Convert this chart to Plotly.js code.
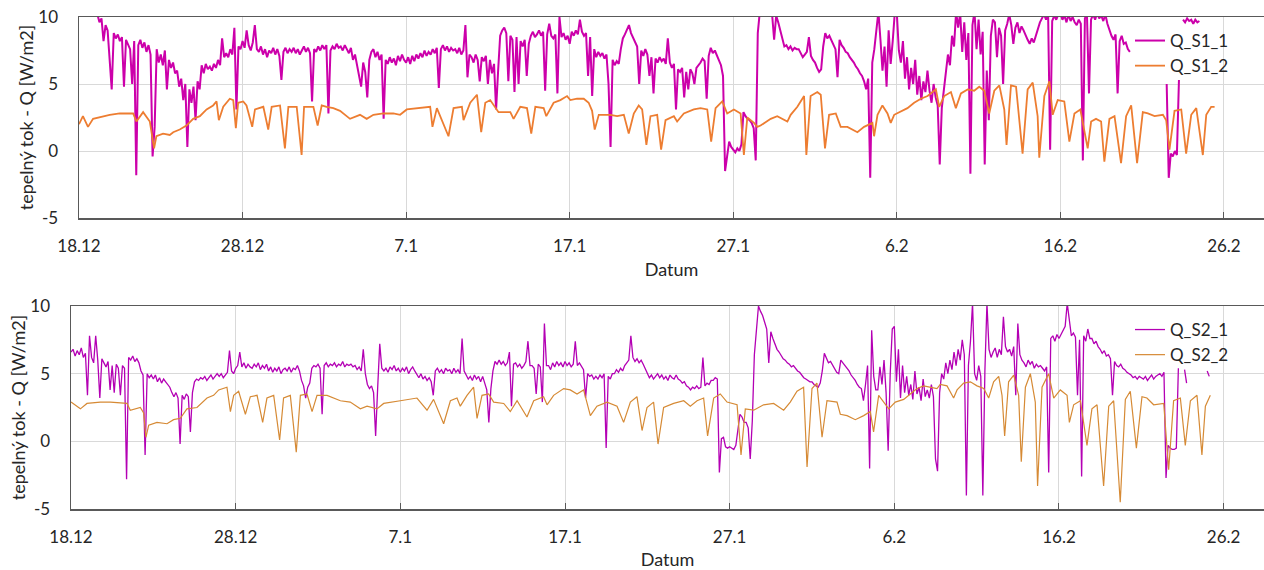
<!DOCTYPE html>
<html>
<head>
<meta charset="utf-8">
<script src="https://cdn.plot.ly/plotly-3.0.1.min.js"></script>
<style>
  html, body { margin: 0; padding: 0; background: #ffffff; }
  #chart { width: 1264px; height: 570px; }
</style>
</head>
<body>
<div id="chart"></div>
<script>
// ---------------- DATA ----------------
// day offsets are counted from 18.12 (00:00)
const startDate = [2012, 11, 18];
const tickDays = [0, 10, 20, 30, 40, 50, 60, 70];
const tickLabels = ['18.12', '28.12', '7.1', '17.1', '27.1', '6.2', '16.2', '26.2'];

// Q_S1_1 : samples every 0.125 day (3 h) starting at day 1.0 (null = no data); one row = one day
const s1_1_start = 1.0;
const s1_1_step = 0.125;
const s1_1 = [
  10.4, 10.2, 9.6, 9.9, 8.2, 9.4, 9.0, 7.0,
  4.6, 8.8, 8.4, 8.7, 8.2, 8.5, 4.8, 8.3,
  8.0, 7.6, 5.0, 8.2, -1.8, 7.9, 8.3, 7.7,
  8.1, 7.4, 7.9, 7.2, -0.4, 1.8, 7.6, 6.6,
  7.2, 6.4, 7.5, 4.6, 6.8, 6.2, 6.6, 5.8,
  6.0, 4.8, 5.4, 3.8, 5.0, 0.3, 4.6, 3.6,
  4.8, 2.3, 5.2, 4.6, 6.4, 5.8, 6.5, 6.1,
  6.3, 6.0, 6.5, 6.2, 6.8, 6.4, 8.4, 7.0,
  7.3, 7.0, 7.6, 7.2, 9.2, 3.1, 7.8, 7.6,
  8.2, 7.7, 9.0, 7.9, 7.5, 8.1, 9.4, 7.6,
  7.4, 7.8, 7.2, 7.6, 7.0, 7.5, 7.3, 7.7,
  7.2, 7.6, 7.1, 5.3, 7.4, 7.7, 7.3, 7.6,
  7.4, 7.7, 7.3, 7.6, 7.2, 7.5, 7.8, 7.4,
  7.7, 7.3, 3.7, 7.6, 7.4, 7.8, 7.5, 7.9,
  7.6, 7.9, 2.8, 7.5, 7.8, 7.6, 8.0, 7.7,
  7.8, 7.5, 7.9, 7.6, 7.3, 7.7, 6.8, 7.2,
  6.4, 5.8, 4.8, 6.6, 5.9, 4.0, 6.8, 7.4,
  7.6, 7.0, 7.4, 6.8, 7.2, 2.4, 6.8, 6.5,
  7.0, 6.6, 6.9, 6.4, 7.1, 6.7, 7.2, 6.8,
  6.6, 7.0, 6.5, 7.1, 6.7, 7.2, 6.9, 7.3,
  7.0, 7.5, 7.1, 7.4, 7.2, 7.6, 7.3, 7.7,
  4.7, 7.6, 7.9, 7.5, 7.8, 7.4, 7.7, 7.5,
  7.6, 7.3, 7.7, 7.2, 7.5, 9.4, 5.5, 7.2,
  7.0, 6.6, 7.2, 6.8, 5.2, 7.0, 6.7, 7.1,
  5.0, 6.8, 5.8, 6.5, 3.1, 6.0, 8.6, 9.0,
  9.2, 8.8, 5.2, 8.6, 8.3, 4.4, 8.5, 5.0,
  8.2, 7.8, 8.3, 5.6, 8.0, 8.6, 8.9, 8.5,
  8.7, 9.0, 8.6, 8.9, 4.5, 8.7, 9.5, 8.6,
  8.4, 8.7, 4.3, 10.0, 8.5, 8.8, 8.3, 8.6,
  8.0, 8.9, 8.6, 9.0, 8.7, 9.8, 8.9, 8.6,
  8.8, 5.6, 8.5, 4.1, 7.6, 7.0, 7.4, 7.1,
  7.3, 6.9, 7.2, 5.0, 0.3, 6.8, 6.4, 6.7,
  6.5, 7.6, 8.4, 8.7, 9.0, 9.4, 8.8, 8.5,
  8.2, 7.8, 5.0, 7.5, 7.1, 7.6, 7.2, 5.6,
  7.0, 4.3, 6.9, 6.6, 7.0, 6.7, 6.9, 6.5,
  8.4, 6.6, 6.2, 6.5, 3.1, 6.1, 5.9, 6.2,
  4.0, 5.9, 4.6, 6.1, 5.8, 5.0, 6.2, 6.4,
  6.6, 6.9, 6.7, 3.9, 7.1, 7.7, 7.3, 7.5,
  7.1, 6.8, 6.4, 5.6, -1.5, -0.4, 0.7, 0.3,
  0.1, -0.1, 0.2, 0.0, 0.5, 2.9, 2.6, 2.4,
  2.3, 2.1, 1.7, -0.7, 8.8, 10.4, 10.6, 10.4,
  10.5, 10.3, 10.6, 10.2, 8.3, 10.1, 9.6, 9.0,
  8.2, 7.8, 7.9, 7.6, 7.8, 7.5, 7.7, 7.6,
  7.6, 7.3, 7.0, 7.2, 7.4, 8.5, 7.1, 6.8,
  6.6, 6.2, 5.9, 6.1, 7.8, 8.8, 8.4, 8.6,
  8.3, 8.0, 7.6, 5.5, 8.3, 7.9, 7.7, 7.4,
  7.3, 7.0, 6.8, 6.6, 6.3, 6.1, 5.8, 5.6,
  5.2, 4.6, 5.4, -2.0, 6.6, 7.6, 9.0, 10.4,
  8.3, 6.0, 7.8, 4.8, 9.0, 6.5, 8.2, 10.3,
  10.3, 7.5, 6.6, 8.2, 5.4, 7.0, 4.6, 6.2,
  5.0, 6.8, 4.2, 5.6, 3.8, 5.2, 4.4, 6.0,
  4.5, 3.6, 5.0, 4.0, 3.4, -1.0, 3.2, 4.4,
  5.6, 7.2, 6.4, 8.6, 7.8, 10.4, 9.2, 10.3,
  7.4, 9.6, 6.8, 8.8, -1.7, 9.4, 10.4, 7.6,
  9.8, 7.2, 8.9, -1.0, 6.0, 2.3, 8.6, 9.8,
  9.6, 7.0, 9.2, 8.6, 5.0, 9.0, 9.5, 10.2,
  9.4, 8.0, 9.2, 9.6, 8.8, 9.3, 9.0, 8.6,
  8.3, 8.0, 8.4, 8.1, 8.6, 9.2, 9.6, 9.9,
  10.2, 9.8, 10.3, 0.1, 9.7, 10.1, 9.8, 10.2,
  10.3, 9.8, 10.1, 9.6, 10.2, 9.7, 10.0, 9.6,
  9.4, 9.8, 9.5, -0.7, 9.9, 10.2, 4.3, 9.8,
  10.2, 9.8, 10.3, 9.9, 10.1, 9.7, 10.2, 9.5,
  9.0, 8.6, 8.3, 8.7, 4.3, 8.2, 8.6, 8.0,
  8.1, 7.6, 7.4, null, null, null, null, null,
  null, null, null, null, null, null, null, null,
  null, null, null, null, 5.0, -2.0, -0.2, -0.4,
  0.0, -0.3, 5.3, null, 9.8, 9.6, 9.9, 9.7,
  9.8, 9.5, 9.8, 9.6, 9.7
];

// Q_S1_2 : [day, value]
const s1_2 = [
  [0,2.0],[0.24,2.6],[0.55,1.8],[0.86,2.4],[1.88,2.7],[2.49,2.8],[3.31,2.8],[3.51,2.2],[3.92,2.9],
  [4.33,2.2],[4.59,0.2],[4.73,1.1],[5.14,1.3],[5.55,1.2],[5.76,1.4],[6.16,1.6],[6.57,1.9],[6.98,2.4],
  [7.39,2.6],[7.8,3.1],[8.2,3.4],[8.41,3.7],[8.55,2.3],[8.82,3.3],[9.22,3.9],[9.43,3.8],[9.59,1.7],
  [9.73,3.6],[10.04,3.7],[10.24,3.4],[10.59,1.8],[10.76,3.1],[11.27,3.3],[11.57,1.6],[11.78,3.3],
  [12.29,3.4],[12.59,0.2],[12.8,3.3],[13.31,3.3],[13.61,-0.3],[13.76,3.3],[14.33,3.3],[14.59,1.9],
  [14.84,3.4],[15.14,3.3],[15.55,3.2],[15.96,3.0],[16.57,2.4],[17.18,2.7],[17.59,2.4],[18.0,2.7],
  [18.61,2.8],[19.22,2.8],[19.63,2.7],[20.04,3.1],[20.65,3.2],[20.86,3.2],[21.47,3.3],[21.61,1.8],
  [21.88,3.2],[22.59,1.1],[22.9,3.2],[23.41,3.3],[23.51,2.3],[23.92,3.6],[24.33,4.2],[24.59,1.4],
  [24.84,3.6],[25.14,3.8],[25.45,3.3],[25.65,2.9],[26.37,2.9],[26.57,2.4],[26.98,3.3],[27.39,3.2],
  [27.65,1.3],[27.9,3.3],[28.41,3.2],[28.57,2.6],[29.02,3.6],[29.43,3.8],[29.84,4.1],[30.04,3.8],
  [30.45,3.9],[30.86,3.9],[31.16,3.6],[31.37,3.0],[31.53,1.6],[31.78,2.7],[32.49,2.7],[32.9,2.6],
  [33.31,2.7],[33.61,1.3],[33.92,2.8],[34.22,3.4],[34.43,3.1],[34.69,0.45],[34.94,2.6],[35.35,2.7],
  [35.59,0.1],[35.86,2.3],[36.37,2.6],[36.57,2.2],[36.98,2.8],[37.59,3.1],[38.0,3.2],[38.41,3.1],
  [38.65,0.7],[38.92,3.2],[39.33,3.7],[39.63,2.8],[40.04,3.1],[40.45,2.8],[40.65,-0.3],[40.86,2.5],
  [41.27,2.1],[41.47,1.8],[41.67,1.9],[42.29,2.4],[42.69,2.6],[43.31,2.2],[43.51,2.7],[43.92,3.3],
  [44.33,4.1],[44.47,-0.3],[44.73,4.1],[45.14,4.4],[45.35,4.2],[45.61,0.2],[45.86,2.7],[46.27,2.8],
  [46.57,1.8],[46.98,1.8],[47.59,1.4],[48.0,1.8],[48.51,2.1],[48.61,1.1],[48.82,2.7],[49.12,3.4],
  [49.43,2.8],[49.63,2.1],[49.84,2.7],[50.65,3.2],[51.06,3.6],[51.47,3.9],[51.88,4.1],[52.39,4.6],
  [52.59,3.3],[52.9,4.1],[53.31,4.4],[53.61,3.2],[53.92,4.3],[54.33,4.6],[54.73,4.5],[55.04,4.8],
  [55.35,4.5],[55.65,2.8],[55.96,4.5],[56.27,4.9],[56.57,3.1],[56.71,0.45],[56.98,4.9],[57.29,4.8],
  [57.69,-0.2],[58.0,4.6],[58.31,5.1],[58.61,2.6],[58.71,-0.5],[59.02,4.1],[59.33,5.2],[59.53,2.7],
  [59.84,3.8],[60.24,3.7],[60.55,0.7],[60.86,2.8],[61.22,3.1],[61.67,0.2],[61.88,2.2],[62.18,2.4],
  [62.49,2.2],[62.69,-0.8],[63.0,2.4],[63.31,2.6],[63.71,-0.9],[64.02,2.6],[64.33,3.4],[64.69,-0.9],
  [65.04,2.9],[65.35,2.8],[65.76,2.6],[66.27,2.7],[66.47,2.3],[66.67,0.1],[66.98,3.0],[67.39,3.1],
  [67.69,-0.2],[68.0,2.7],[68.31,3.2],[68.71,-0.3],[68.92,2.7],[69.22,3.3],[69.43,3.3]
];

// Q_S2_1 : samples every 0.125 day (3 h) starting at day 0; one row = one day
const s2_1_start = 0.0;
const s2_1_step = 0.125;
const s2_1 = [
  6.6, 6.8, 6.3, 6.7, 6.4, 6.9, 6.2, 6.5,
  3.4, 7.8, 6.2, 5.8, 7.8, 6.0, 3.2, 6.1,
  5.8, 5.5, 5.9, 3.8, 5.6, 3.6, 5.7, 5.4,
  3.4, 5.6, 5.4, -2.8, 6.2, 6.0, 6.3, 5.9,
  6.1, 5.8, 5.2, 4.9, -1.0, 5.0, 4.7, 4.9,
  4.6, 4.9, 4.4, 4.7, 4.3, 4.6, 4.4, 4.2,
  4.0, 3.6, 3.3, 3.6, 3.2, -0.2, 3.4, 3.1,
  3.5, 3.3, 0.7, 3.6, 4.4, 4.6, 4.5, 4.7,
  4.6, 4.8, 4.5, 4.7, 4.9, 4.6, 4.8, 5.0,
  4.8, 5.0, 4.7, 4.9, 5.1, 6.7, 5.2, 5.0,
  5.4, 5.6, 6.6, 5.5, 5.8, 5.4, 5.7, 5.5,
  5.4, 5.7, 5.5, 5.8, 5.3, 5.6, 5.4, 5.7,
  5.2, 5.5, 5.1, 5.4, 5.2, 5.5, 5.0, 5.3,
  5.4, 5.2, 5.5, 5.1, 5.4, 5.3, 5.6, 5.2,
  4.5, 4.1, 3.2, 4.0, 4.3, 5.4, 5.6, 5.5,
  5.7, 5.4, 2.0, 5.6, 5.8, 5.5, 5.7, 5.6,
  5.8, 5.5, 5.7, 5.6, 5.9, 5.5, 5.7, 5.6,
  5.7, 5.5, 5.6, 5.3, 5.5, 5.2, 6.8, 5.0,
  4.2, 3.9, 4.1, 3.6, 0.4, 4.0, 7.2, 5.4,
  5.2, 5.4, 5.1, 5.5, 5.3, 5.6, 5.2, 5.4,
  5.1, 5.4, 5.2, 5.5, 5.0, 5.3, 5.5, 5.2,
  4.9, 4.7, 5.0, 4.6, 4.8, 4.5, 4.7, 4.4,
  3.4, 5.2, 5.4, 5.1, 5.3, 5.0, 5.4, 5.2,
  5.3, 5.0, 5.4, 5.1, 5.3, 5.0, 7.6, 5.2,
  4.9, 4.6, 4.8, 4.5, 4.9, 4.6, 4.8, 4.4,
  4.8, 4.3, 3.8, 1.4, 3.9, 5.2, 5.9, 5.7,
  6.0, 5.7, 5.9, 5.6, 5.8, 6.6, 2.6, 5.7,
  5.8, 5.5, 5.7, 5.4, 5.6, 5.9, 7.4, 5.6,
  5.6, 5.4, 3.5, 5.7, 5.5, 2.9, 8.7, 5.6,
  5.6, 5.3, 5.8, 5.5, 5.9, 5.6, 5.8, 5.5,
  5.9, 5.6, 5.8, 5.5, 5.7, 7.4, 5.6, 5.8,
  5.5, 5.3, 3.2, 5.0, 4.8, 4.9, 4.6, 4.8,
  4.6, 4.9, 4.7, 5.0, -0.5, 4.8, 4.6, 5.0,
  5.0, 5.3, 5.1, 5.4, 5.2, 5.6, 5.8, 6.0,
  7.8, 6.2, 5.9, 6.1, 5.8, 6.0, 5.7, 5.4,
  5.0, 4.7, 4.9, 4.6, 4.8, 5.0, 4.7, 4.9,
  4.6, 4.8, 4.5, 4.9, 4.7, 4.6, 4.9, 4.6,
  4.5, 4.3, 4.4, 4.1, 4.0, 3.8, 4.0, 3.9,
  4.1, 3.9, 4.0, 6.2, 4.1, 4.3, 4.2, 4.5,
  4.5, 4.7, 4.6, -2.3, 0.2, 0.3, -0.4, -0.5,
  -0.4, -0.5, -0.6, -0.3, 1.0, 2.0, 1.8, 1.4,
  1.4, 1.0, -1.3, 1.5, 6.4, 8.6, 10.0, 9.6,
  9.3, 8.8, 8.3, 5.8, 8.1, 7.6, 7.2, 6.8,
  6.6, 6.3, 6.1, 6.0, 5.8, 5.7, 5.5, 5.6,
  5.4, 5.2, 5.1, 4.9, 4.7, 4.6, 4.5, 4.4,
  4.4, 4.2, 4.1, 4.0, 4.3, 5.2, 6.5, 6.1,
  5.8, 5.9, 5.6, 5.4, 5.1, 5.0, 6.0, 5.8,
  5.6, 5.4, 5.2, 4.9, 4.7, 4.5, 4.2, 4.0,
  3.9, 3.0, 4.2, 5.6, -2.0, 8.2, 4.8, 3.8,
  3.8, 5.5, 4.2, 6.0, 3.6, -0.7, 5.0, 8.3,
  8.5, 4.4, 6.8, 3.2, 5.6, 3.6, 4.8, 3.4,
  4.2, 3.1, 5.2, 3.5, 4.0, 3.0, 4.6, 3.3,
  3.8, 3.2, 4.2, 3.3, -1.3, -2.2, 3.6, 5.0,
  4.6, 5.8, 5.0, 6.0, 5.3, 6.6, 5.6, 6.8,
  6.0, 7.5, 6.4, -4.0, 5.6, 7.4, 10.2, 5.0,
  4.5, 5.6, 4.8, -4.0, 5.2, 10.2, 6.8, 6.2,
  6.6, 6.9, 6.2, 6.8, 6.4, 9.2, 7.0, 6.6,
  6.8, 6.3, 7.0, 3.4, 8.7, 6.4, 6.0, 5.8,
  5.5, 6.0, 5.7, 5.9, 5.4, 5.7, 5.5, 5.6,
  5.4, 5.2, 5.5, -2.3, 7.6, 7.8, 7.4, 7.9,
  7.6, 7.9, 8.2, 8.5, 10.2, 9.0, 7.8, 8.0,
  7.7, 3.4, 7.5, -2.6, 7.8, 7.4, 8.3, 7.6,
  7.6, 7.2, 7.4, 7.0, 6.8, 6.5, 6.7, 6.3,
  6.4, 6.1, 3.4, 5.9, 5.6, 5.5, 5.7, 5.4,
  5.3, 5.1, 5.0, 4.9, 4.7, 4.8, 4.6, 4.8,
  4.7, 4.6, 4.8, 4.5, 4.7, 4.9, 4.6, 4.8,
  4.9, 5.0, 4.8, 5.1, -2.7, -0.3, -0.5, -0.6,
  -0.6, -0.5, 5.4, null, null, 5.3, 4.3, null,
  null, null, null, null, null, null, null, null,
  5.2, 4.8
];

// Q_S2_2 : [day, value]
const s2_2 = [
  [0,2.9],[0.57,2.4],[0.97,2.8],[1.78,2.9],[2.39,2.9],[3.4,2.8],[3.6,2.3],[4.21,2.5],[4.41,2.1],
  [4.55,0.3],[4.72,1.2],[5.22,1.4],[5.83,1.3],[6.23,1.6],[6.64,1.7],[7.04,2.4],[7.65,2.5],[8.26,3.2],
  [8.66,3.4],[8.97,3.8],[9.47,4.0],[9.68,2.2],[9.88,3.4],[10.18,3.7],[10.59,2.0],[10.89,3.3],
  [11.3,3.4],[11.64,1.4],[11.9,3.2],[12.31,3.4],[12.67,0.1],[12.91,3.2],[13.32,3.4],[13.68,-0.8],
  [13.93,3.4],[14.33,3.5],[14.64,2.2],[14.94,3.4],[15.55,3.4],[15.95,3.2],[16.36,3.0],[16.96,2.9],
  [17.57,2.4],[17.98,2.6],[18.58,2.4],[18.99,2.8],[19.39,2.9],[20.0,3.0],[21.01,3.2],[21.62,2.3],
  [22.02,3.1],[22.63,1.3],[23.04,3.0],[23.44,3.2],[23.64,2.6],[24.05,3.4],[24.45,4.0],[24.66,1.7],
  [24.96,3.4],[25.36,3.5],[25.67,2.9],[26.28,2.8],[26.68,2.2],[27.09,3.0],[27.69,1.8],[28.1,3.0],
  [28.7,3.3],[28.91,2.7],[29.31,3.4],[29.92,3.9],[30.32,3.8],[30.73,3.5],[31.13,3.8],[31.54,1.9],
  [31.94,2.6],[32.55,2.9],[33.16,2.6],[33.56,1.4],[33.97,2.9],[34.37,3.3],[34.68,0.8],[34.98,2.5],
  [35.38,2.9],[35.65,-0.2],[35.99,2.5],[36.6,2.8],[37.21,3.0],[37.61,2.6],[38.02,3.0],[38.42,3.2],
  [38.66,0.4],[39.03,3.2],[39.43,3.5],[39.84,2.9],[40.45,2.7],[40.69,-1.0],[40.95,2.4],[41.46,2.3],
  [42.06,2.7],[42.67,2.8],[43.28,2.3],[43.68,2.9],[44.09,3.7],[44.49,4.0],[44.7,-1.9],[45.0,3.9],
  [45.3,4.3],[45.61,0.3],[45.91,3.0],[46.52,2.9],[46.72,2.0],[47.13,1.9],[47.63,1.6],[48.14,1.9],
  [48.54,2.2],[48.74,0.7],[49.05,3.4],[49.45,2.7],[49.66,2.4],[50.06,2.9],[50.57,3.1],[50.97,3.5],
  [51.38,3.9],[51.78,4.1],[52.19,4.0],[52.59,3.9],[52.79,4.2],[53.2,4.1],[53.6,3.2],[53.81,3.8],
  [54.21,4.3],[54.62,4.4],[55.02,4.1],[55.43,3.9],[55.73,3.2],[56.03,4.4],[56.34,4.8],[56.54,3.4],
  [56.7,0.4],[56.94,4.4],[57.25,4.9],[57.55,3.4],[57.71,-1.5],[57.96,4.0],[58.26,5.0],[58.56,2.9],
  [58.7,-3.3],[58.97,4.0],[59.37,5.0],[59.68,3.2],[60.08,3.8],[60.49,3.4],[60.63,1.4],[60.89,2.7],
  [61.3,3.0],[61.7,-0.3],[62.0,2.4],[62.31,2.7],[62.71,-3.3],[63.02,2.6],[63.32,3.0],[63.72,-4.5],
  [64.03,3.1],[64.33,3.7],[64.7,-0.5],[65.04,3.3],[65.34,3.2],[65.75,2.7],[66.36,2.8],[66.66,-2.1],
  [66.96,3.0],[67.37,3.2],[67.67,-0.3],[67.98,3.0],[68.38,3.4],[68.68,-1.0],[68.89,2.6],[69.19,3.4]
];

const axisMaxDay = 72.45;
const yTitle = 'tepelný tok - Q [W/m2]';
const xTitle = 'Datum';

// ---------------- BUILD ----------------
const DAY_MS = 86400000;
const BASE = Date.UTC(startDate[0], startDate[1], startDate[2]);
const dx = d => BASE + d * DAY_MS;
const regularX = (start, step, arr) => arr.map((_, i) => dx(start + i * step));

const FONT = 'Lato, "Open Sans", sans-serif';
const TXT = '#262626';

const traces = [
  { name: 'Q_S1_1', x: regularX(s1_1_start, s1_1_step, s1_1), y: s1_1, type: 'scatter', mode: 'lines',
    line: { color: '#CC00AA', width: 2 }, xaxis: 'x', yaxis: 'y', legend: 'legend', connectgaps: false },
  { name: 'Q_S1_2', x: s1_2.map(p => dx(p[0])), y: s1_2.map(p => p[1]), type: 'scatter', mode: 'lines',
    line: { color: '#ED7D31', width: 1.8 }, xaxis: 'x', yaxis: 'y', legend: 'legend' },
  { name: 'Q_S2_1', x: regularX(s2_1_start, s2_1_step, s2_1), y: s2_1, type: 'scatter', mode: 'lines',
    line: { color: '#B400B4', width: 1.3 }, xaxis: 'x2', yaxis: 'y2', legend: 'legend2', connectgaps: false },
  { name: 'Q_S2_2', x: s2_2.map(p => dx(p[0])), y: s2_2.map(p => p[1]), type: 'scatter', mode: 'lines',
    line: { color: '#D68A35', width: 1.2 }, xaxis: 'x2', yaxis: 'y2', legend: 'legend2' }
];

const W = 1264, H = 570;
function xAxis(left, anchor, standoff) {
  return {
    domain: [left / W, 1], anchor: anchor, type: 'date',
    range: [dx(0), dx(axisMaxDay)],
    tickmode: 'array', tickvals: tickDays.map(dx), ticktext: tickLabels,
    ticks: 'inside', ticklen: 6, tickwidth: 1, tickcolor: '#595959',
    showgrid: true, gridcolor: '#D9D9D9', gridwidth: 1,
    showline: true, linecolor: '#595959', linewidth: 1.5, mirror: true,
    zeroline: false, ticklabelstandoff: 12,
    tickfont: { family: FONT, size: 17, color: TXT },
    title: { text: xTitle, font: { family: FONT, size: 18, color: TXT }, standoff: standoff }
  };
}
function yAxis(top, bottom, anchor) {
  return {
    domain: [(H - bottom) / H, (H - top) / H], anchor: anchor,
    range: [-5, 10], tickmode: 'array', tickvals: [-5, 0, 5, 10], ticktext: ['-5', '0', '5', '10'],
    ticks: '', showgrid: true, gridcolor: '#D9D9D9', gridwidth: 1,
    showline: true, linecolor: '#595959', linewidth: 1.5, mirror: false,
    zeroline: false, ticklabelstandoff: 16,
    tickfont: { family: FONT, size: 17, color: TXT },
    title: { text: yTitle, font: { family: FONT, size: 18, color: TXT }, standoff: 0 }
  };
}

const layout = {
  width: W, height: H, margin: { l: 0, r: 0, t: 0, b: 0 },
  paper_bgcolor: '#ffffff', plot_bgcolor: '#ffffff',
  font: { family: FONT, size: 17, color: TXT },
  showlegend: true,
  xaxis: xAxis(79, 'y', 8),
  yaxis: yAxis(17, 218, 'x'),
  xaxis2: xAxis(71, 'y2', 13),
  yaxis2: yAxis(306, 509, 'x2'),
  legend: { x: 1130 / W, y: (H - 23) / H, xanchor: 'left', yanchor: 'top', bgcolor: 'rgba(0,0,0,0)',
            font: { family: FONT, size: 17, color: TXT }, tracegroupgap: 4 },
  legend2: { x: 1130 / W, y: (H - 312) / H, xanchor: 'left', yanchor: 'top', bgcolor: 'rgba(0,0,0,0)',
             font: { family: FONT, size: 17, color: TXT }, tracegroupgap: 4 }
};

Plotly.newPlot('chart', traces, layout, { staticPlot: true, displayModeBar: false });
</script>
</body>
</html>
